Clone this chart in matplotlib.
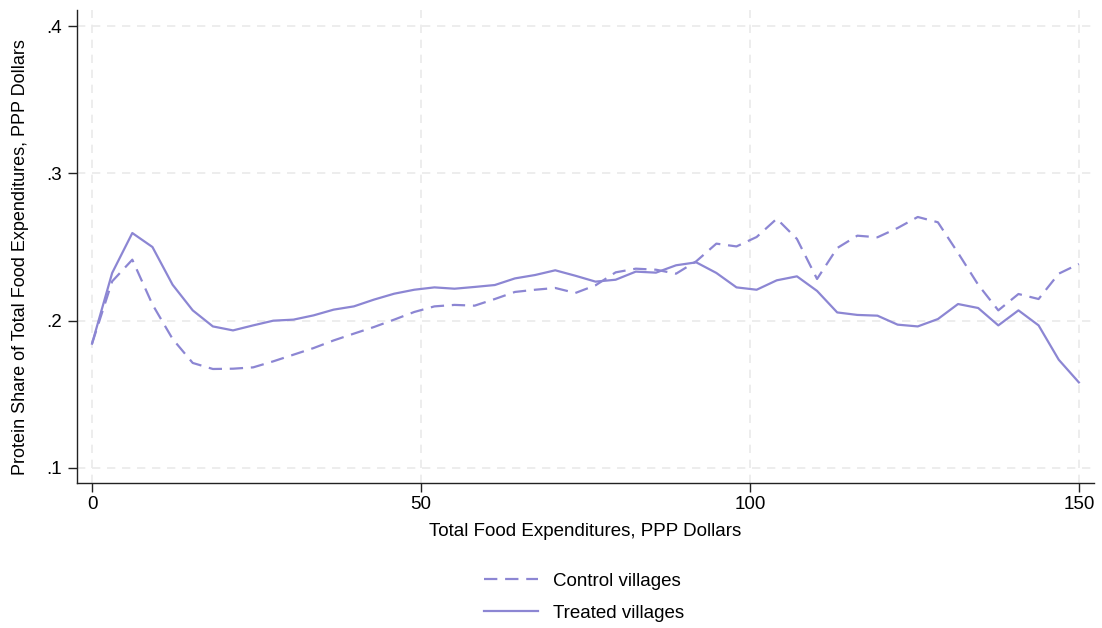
import numpy as np
import matplotlib
matplotlib.use("Agg")
import matplotlib.pyplot as plt
from matplotlib.lines import Line2D

plt.rcParams['font.family'] = ['Liberation Sans', 'DejaVu Sans']

# Data
n_points = 50
expenditure = np.linspace(0, 150, n_points)

control = [0.1844, 0.2267, 0.2414, 0.2110, 0.1876, 0.1713, 0.1672, 0.1674, 0.1683, 0.1724,
           0.1769, 0.1814, 0.1866, 0.1912, 0.1957, 0.2007, 0.2059, 0.2097, 0.2107, 0.2102,
           0.2147, 0.2195, 0.2210, 0.2222, 0.2188, 0.2240, 0.2328, 0.2353, 0.2346, 0.2319,
           0.2403, 0.2523, 0.2504, 0.2568, 0.2692, 0.2555, 0.2283, 0.2493, 0.2577, 0.2566,
           0.2629, 0.2704, 0.2668, 0.2460, 0.2244, 0.2070, 0.2181, 0.2147, 0.2319, 0.2385]

treated = [0.1844, 0.2324, 0.2595, 0.2500, 0.2244, 0.2070, 0.1961, 0.1934, 0.1968, 0.2000,
           0.2007, 0.2036, 0.2075, 0.2097, 0.2143, 0.2183, 0.2210, 0.2226, 0.2217, 0.2229,
           0.2242, 0.2287, 0.2310, 0.2342, 0.2305, 0.2265, 0.2278, 0.2333, 0.2326, 0.2376,
           0.2396, 0.2324, 0.2226, 0.2210, 0.2274, 0.2301, 0.2202, 0.2056, 0.2039, 0.2034,
           0.1973, 0.1961, 0.2011, 0.2113, 0.2086, 0.1968, 0.2070, 0.1968, 0.1735, 0.1581]

series_labels = ["Control villages", "Treated villages"]
x_ticks = [0, 50, 100, 150]
y_ticks = [0.1, 0.2, 0.3, 0.4]
y_ticklabels = [".1", ".2", ".3", ".4"]

color = '#8C86D3'
dashes = (6, 3.5)
fs = 13.5

fig = plt.figure(figsize=(11.02, 6.28), dpi=100)
ax = fig.add_axes([76.7/1102, 1 - 483.3/628, (1094 - 76.7)/1102, (483.3 - 10)/628])

ax.plot(expenditure, control, color=color, lw=1.6, linestyle=(0, dashes), label=series_labels[0])
ax.plot(expenditure, treated, color=color, lw=1.6, linestyle='-', label=series_labels[1])

ax.set_xlim(-2.33, 152.3)
ax.set_ylim(0.0896, 0.4109)
ax.set_xticks(x_ticks)
ax.set_xticklabels([str(t) for t in x_ticks])
ax.set_yticks(y_ticks)
ax.set_yticklabels(y_ticklabels)

ax.grid(True, color='#EAEAEA', linestyle=(0, (5, 4)), linewidth=1.2)
ax.set_axisbelow(True)

for s in ['top', 'right']:
    ax.spines[s].set_visible(False)
for s in ['left', 'bottom']:
    ax.spines[s].set_color('#222222')
    ax.spines[s].set_linewidth(1.0)

ax.tick_params(axis='both', direction='out', length=6.5, width=1.0, labelsize=fs, colors='#222222',
               labelcolor='black')
ax.tick_params(axis='x', pad=3)
ax.tick_params(axis='y', pad=4)

ax.set_xlabel("Total Food Expenditures, PPP Dollars", fontsize=fs, labelpad=7)
ax.set_ylabel("Protein Share of Total Food Expenditures, PPP Dollars", fontsize=13, labelpad=12)
ax.yaxis.set_label_coords(-0.047, 0.478)

handles = [Line2D([0], [0], color=color, lw=1.6, linestyle=(0, dashes)),
           Line2D([0], [0], color=color, lw=1.6, linestyle='-')]
fig.legend(handles, series_labels, loc='center', bbox_to_anchor=(584/1102, 1 - 597/628),
           frameon=False, fontsize=fs, handlelength=2.9, handletextpad=0.8, labelspacing=0.8)

fig.savefig("out.png", dpi=100)
